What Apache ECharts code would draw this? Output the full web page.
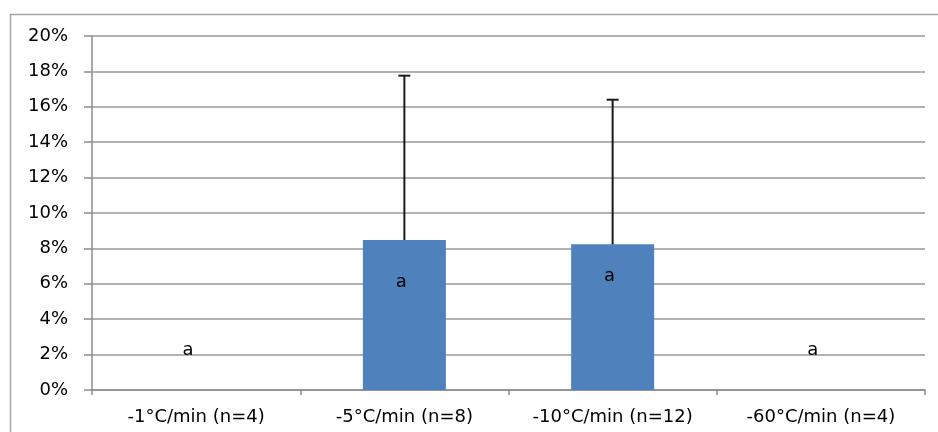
<!DOCTYPE html>
<html><head><meta charset="utf-8">
<script src="https://cdn.jsdelivr.net/npm/echarts@6/dist/echarts.min.js"></script>
<style>html,body{margin:0;padding:0;background:#fff}#c{width:938px;height:432px}</style>
</head><body><div id="c"></div>
<script>
const categories = ['-1°C/min (n=4)', '-5°C/min (n=8)', '-10°C/min (n=12)', '-60°C/min (n=4)'];
const values = [0, 8.47, 8.23, 0];
const errorTops = [null, 17.76, 16.4, null];
const letters = ['a', 'a', 'a', 'a'];
const letterY = [2.26, 6.1, 6.44, 2.26];
const yTicks = [0, 2, 4, 6, 8, 10, 12, 14, 16, 18, 20];

const FONT = 'DejaVu Sans';
const chart = echarts.init(document.getElementById('c'));
chart.setOption({
  animation: false,
  graphic: [{type: 'rect', shape: {x: 10.5, y: 14.5, width: 960, height: 460}, style: {fill: 'none', stroke: '#a6a6a6', lineWidth: 1.5}, silent: true}],
  grid: {left: 92, right: 13, top: 36, bottom: 42},
  xAxis: {
    type: 'category', data: categories,
    axisLine: {lineStyle: {color: '#8c8c8c', width: 1.5}},
    axisTick: {show: true, length: 5, lineStyle: {color: '#8c8c8c', width: 1.5}},
    axisLabel: {color: '#000', fontFamily: FONT, fontSize: 18, margin: 18}
  },
  yAxis: {
    type: 'value', min: yTicks[0], max: yTicks[yTicks.length - 1], interval: 2,
    axisLine: {show: true, lineStyle: {color: '#8c8c8c', width: 1.5}},
    axisTick: {show: true, inside: false, length: 8, lineStyle: {color: '#8c8c8c', width: 1.5}},
    splitLine: {lineStyle: {color: '#999999', width: 1.5}},
    axisLabel: {color: '#000', fontFamily: FONT, fontSize: 18, margin: 24, formatter: v => v + '%'}
  },
  series: [
    {
      type: 'bar', data: values, barWidth: 83,
      itemStyle: {color: '#4f81bd'}, z: 2
    },
    {
      type: 'custom', z: 3,
      data: errorTops.map((t, i) => [i, values[i], t]),
      renderItem: function (params, api) {
        const top = api.value(2);
        if (top === null || top === undefined || isNaN(top)) return null;
        const p0 = api.coord([api.value(0), api.value(1)]);
        const p1 = api.coord([api.value(0), top]);
        const hw = 6;
        return {type: 'group', children: [
          {type: 'line', shape: {x1: p0[0], y1: p0[1], x2: p1[0], y2: p1[1]}, style: {stroke: '#1a1a1a', lineWidth: 2}},
          {type: 'line', shape: {x1: p1[0] - hw, y1: p1[1], x2: p1[0] + hw, y2: p1[1]}, style: {stroke: '#1a1a1a', lineWidth: 2}}
        ]};
      }
    },
    {
      type: 'custom', z: 4,
      data: letters.map((l, i) => [i, letterY[i], l]),
      renderItem: function (params, api) {
        const p = api.coord([api.value(0), api.value(1)]);
        const dx = (params.dataIndex === 0 || params.dataIndex === 3) ? -8 : -3;
        return {type: 'text', style: {x: p[0] + dx, y: p[1], text: letters[params.dataIndex], fill: '#000', font: '18px "DejaVu Sans"', align: 'center', verticalAlign: 'middle'}};
      }
    }
  ]
});
</script></body></html>
